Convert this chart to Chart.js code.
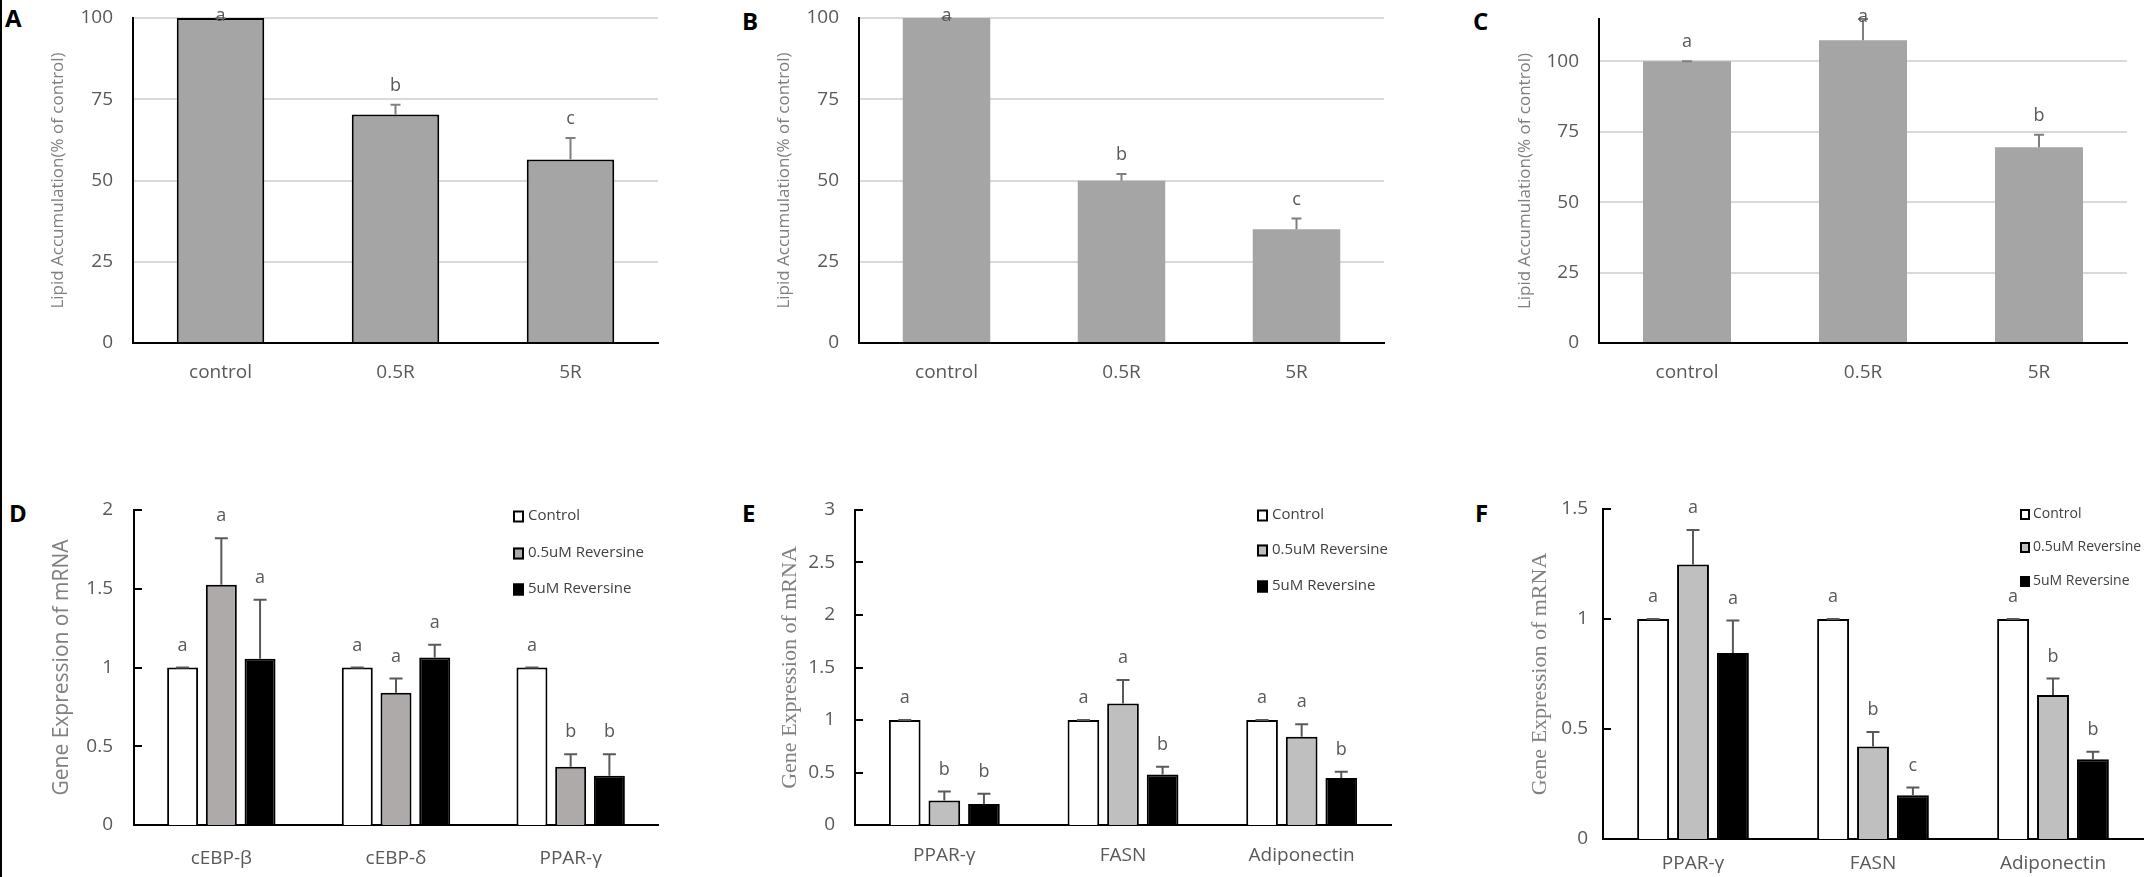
<!DOCTYPE html>
<html>
<head>
<meta charset="utf-8">
<script src="https://cdn.jsdelivr.net/npm/chart.js@4.4.1/dist/chart.umd.min.js"></script>
<style>
    html, body { margin: 0; padding: 0; background: #fff; width: 2144px; height: 877px; overflow: hidden; position: relative; }
    canvas.panel { position: absolute; }
    .tag { position: absolute; font-family: 'Open Sans', sans-serif; font-weight: 700; font-size: 24px; line-height: 24px; color: #000; }
    #edge { position: absolute; left: 0; top: 0; width: 2px; height: 877px; background: #000; }
</style>
</head>
<body>
<div id="edge"></div>
<div class="tag" style="left:5px;top:6px;">A</div>
<div class="tag" style="left:742px;top:9px;">B</div>
<div class="tag" style="left:1473px;top:9px;">C</div>
<div class="tag" style="left:9px;top:501px;">D</div>
<div class="tag" style="left:742px;top:501px;">E</div>
<div class="tag" style="left:1475px;top:501px;">F</div>
<script>
// top row: lipid accumulation
const topCats = ['control', '0.5R', '5R'];
const lipidA = [100, 70.3, 56.5];
const lipidAErr = [0, 3.0, 6.6];
const lipidALetters = ['a', 'b', 'c'];
const lipidB = [100, 49.9, 35.0];
const lipidBErr = [0, 2.1, 3.3];
const lipidBLetters = ['a', 'b', 'c'];
const lipidC = [100, 107.5, 69.5];
const lipidCErr = [0, 7.5, 4.4];
const lipidCLetters = ['a', 'a', 'b'];

// bottom row: gene expression
const groups = ['Control', '0.5uM Reversine', '5uM Reversine'];
const genesD = ['cEBP-β', 'cEBP-δ', 'PPAR-γ'];
const ctrlD = [1, 1, 1];
const lowD = [1.525, 0.84, 0.37];
const highD = [1.055, 1.064, 0.313];
const ctrlDErr = [0, 0, 0];
const lowDErr = [0.295, 0.09, 0.08];
const highDErr = [0.375, 0.08, 0.137];
const ctrlDLetters = ['a', 'a', 'a'];
const lowDLetters = ['a', 'a', 'b'];
const highDLetters = ['a', 'a', 'b'];

const genesEF = ['PPAR-γ', 'FASN', 'Adiponectin'];
const ctrlE = [1, 1, 1];
const lowE = [0.233, 1.158, 0.841];
const highE = [0.201, 0.48, 0.448];
const ctrlEErr = [0, 0, 0];
const lowEErr = [0.087, 0.224, 0.118];
const highEErr = [0.096, 0.074, 0.058];
const ctrlELetters = ['a', 'a', 'a'];
const lowELetters = ['b', 'a', 'a'];
const highELetters = ['b', 'b', 'b'];

const ctrlF = [1, 1, 1];
const lowF = [1.248, 0.42, 0.655];
const highF = [0.845, 0.199, 0.362];
const ctrlFErr = [0, 0, 0];
const lowFErr = [0.156, 0.066, 0.075];
const highFErr = [0.148, 0.035, 0.035];
const ctrlFLetters = ['a', 'a', 'a'];
const lowFLetters = ['a', 'b', 'b'];
const highFLetters = ['a', 'c', 'b'];

const SANS = "'Open Sans', sans-serif";
const SERIF = "'Liberation Serif', 'DejaVu Serif', serif";

// error bars, significance letters, inner ticks and legend
const extras = {
    id: 'extras',
    afterDatasetsDraw(chart, args, opts) {
        const ctx = chart.ctx;
        const y = chart.scales.y;
        const area = chart.chartArea;
        ctx.save();
        if (opts.innerTicks) {
            ctx.strokeStyle = '#000';
            ctx.lineWidth = 2;
            y.ticks.forEach(t => {
                const py = Math.round(y.getPixelForValue(t.value));
                ctx.beginPath();
                ctx.moveTo(area.left, py);
                ctx.lineTo(area.left + 8, py);
                ctx.stroke();
            });
        }
        chart.data.datasets.forEach((ds, di) => {
            const meta = chart.getDatasetMeta(di);
            meta.data.forEach((bar, i) => {
                const py0 = y.getPixelForValue(ds.data[i]);
                const py = y.getPixelForValue(ds.data[i] + ds.errors[i]);
                ctx.strokeStyle = opts.errColor;
                ctx.lineWidth = opts.errWidth;
                ctx.beginPath();
                ctx.moveTo(bar.x, py0);
                ctx.lineTo(bar.x, py);
                ctx.moveTo(bar.x - opts.cap / 2, py);
                ctx.lineTo(bar.x + opts.cap / 2, py);
                ctx.stroke();
                ctx.fillStyle = '#595959';
                ctx.font = '18px ' + SANS;
                ctx.textAlign = 'center';
                ctx.textBaseline = 'middle';
                ctx.fillText(ds.letters[i], bar.x, Math.max(py - opts.letterGap, area.top - 2));
            });
        });
        if (opts.legend) {
            const lg = opts.legend;
            ctx.font = lg.size + 'px ' + SANS;
            ctx.textAlign = 'left';
            ctx.textBaseline = 'middle';
            chart.data.datasets.forEach((ds, di) => {
                const cy = lg.rows[di];
                ctx.fillStyle = ds.backgroundColor;
                ctx.fillRect(lg.x, cy - lg.box / 2, lg.box, lg.box + 1);
                ctx.strokeStyle = '#000';
                ctx.lineWidth = 2;
                ctx.strokeRect(lg.x + 1, cy - lg.box / 2 + 1, lg.box - 2, lg.box - 1);
                ctx.fillStyle = '#404040';
                ctx.fillText(ds.label, lg.textX, cy);
            });
        }
        ctx.restore();
    }
};

function addCanvas(left, top, width, height) {
    const c = document.createElement('canvas');
    c.className = 'panel';
    c.width = width;
    c.height = height;
    c.style.left = left + 'px';
    c.style.top = top + 'px';
    document.body.appendChild(c);
    return c;
}

// keep the chart area where the layout padding puts it
function fixY(width) {
    return s => { s.width = width; s.paddingTop = 0; s.paddingBottom = 0; };
}

function lipidChart(p, values, errs, letters) {
    const canvas = addCanvas(p.left, 0, p.width, 400);
    new Chart(canvas, {
        type: 'bar',
        data: {
            labels: topCats,
            datasets: [{
                data: values, errors: errs, letters: letters,
                backgroundColor: '#a5a5a5', borderColor: '#000', borderWidth: p.border,
                barPercentage: 1, categoryPercentage: 0.5
            }]
        },
        options: {
            responsive: false, animation: false,
            layout: { padding: { top: p.top, right: 12, left: 0, bottom: 0 } },
            plugins: {
                legend: { display: false }, tooltip: { enabled: false },
                extras: { errColor: '#7f7f7f', errWidth: 2, cap: 10, letterGap: 19 }
            },
            scales: {
                x: {
                    grid: { display: false, drawTicks: false },
                    border: { color: '#000', width: 2 },
                    ticks: { color: '#595959', font: { family: SANS, size: 19 }, padding: 18 },
                    afterFit: s => { s.height = 57; }
                },
                y: {
                    min: 0, max: p.max,
                    grid: { color: c => c.tick.value === 0 ? 'rgba(0,0,0,0)' : '#d9d9d9', lineWidth: 2, drawTicks: false },
                    border: { color: '#000', width: 2 },
                    ticks: { stepSize: 25, color: '#595959', font: { family: SANS, size: 19 }, padding: 20 },
                    afterBuildTicks: s => { s.ticks = s.ticks.filter(t => t.value % 25 === 0); },
                    afterFit: fixY(p.yw),
                    title: { display: true, text: 'Lipid Accumulation(% of control)', color: '#7f7f7f', font: { family: SANS, size: 17 }, padding: 0 }
                }
            }
        },
        plugins: [extras]
    });
}

function geneChart(p, cats, series, midColor) {
    const canvas = addCanvas(p.left, 480, p.width, 397);
    const fills = ['#ffffff', midColor, '#000000'];
    new Chart(canvas, {
        type: 'bar',
        data: {
            labels: cats,
            datasets: series.map((s, i) => ({
                label: groups[i], data: s.values, errors: s.errs, letters: s.letters,
                backgroundColor: fills[i], borderColor: '#000', borderWidth: 2,
                barPercentage: 0.8, categoryPercentage: 0.665
            }))
        },
        options: {
            responsive: false, animation: false,
            layout: { padding: { top: p.top, right: 12, left: 0, bottom: 0 } },
            plugins: {
                legend: { display: false }, tooltip: { enabled: false },
                extras: {
                    errColor: '#595959', errWidth: 2, cap: 13, letterGap: 22, innerTicks: true,
                    legend: { x: p.legendX - p.left, textX: p.legendTextX - p.left, rows: p.legendRows.map(r => r - 480), size: p.legendSize, box: p.legendBox }
                }
            },
            scales: {
                x: {
                    grid: { display: false, drawTicks: false },
                    border: { color: '#000', width: 2 },
                    ticks: { color: '#595959', font: { family: SANS, size: 19 }, padding: p.xpad },
                    afterFit: s => { s.height = p.xh; }
                },
                y: {
                    min: 0, max: p.max,
                    grid: { display: false, drawTicks: false },
                    border: { color: '#000', width: 2 },
                    ticks: { stepSize: 0.5, color: '#595959', font: { family: SANS, size: 19 }, padding: p.ypad, callback: v => String(v) },
                    afterFit: fixY(p.yw),
                    title: { display: true, text: 'Gene Expression of mRNA', color: '#808080', font: { family: p.titleFont, size: p.titleSize }, padding: 0 }
                }
            }
        },
        plugins: [extras]
    });
}

lipidChart({ left: 48, width: 622, yw: 85, top: 18, max: 100, border: 2 }, lipidA, lipidAErr, lipidALetters);
lipidChart({ left: 774, width: 622, yw: 85, top: 18, max: 100, border: 0 }, lipidB, lipidBErr, lipidBLetters);
lipidChart({ left: 1515, width: 624, yw: 84, top: 19, max: 115, border: 0 }, lipidC, lipidCErr, lipidCLetters);

geneChart({ left: 49, width: 621, yw: 85, top: 30, max: 2, xh: 52, xpad: 22, ypad: 21,
            titleFont: SANS, titleSize: 21, legendX: 513, legendTextX: 528, legendRows: [516, 553, 589], legendSize: 15, legendBox: 11 },
    genesD, [
        { values: ctrlD, errs: ctrlDErr, letters: ctrlDLetters },
        { values: lowD, errs: lowDErr, letters: lowDLetters },
        { values: highD, errs: highDErr, letters: highDLetters }
    ], '#aeaaaa');

geneChart({ left: 777, width: 626, yw: 78, top: 30, max: 3, xh: 52, xpad: 19, ypad: 20,
            titleFont: SERIF, titleSize: 22, legendX: 1257, legendTextX: 1272, legendRows: [515, 550, 586], legendSize: 15, legendBox: 11 },
    genesEF, [
        { values: ctrlE, errs: ctrlEErr, letters: ctrlELetters },
        { values: lowE, errs: lowEErr, letters: lowELetters },
        { values: highE, errs: highEErr, letters: highELetters }
    ], '#bfbfbf');

geneChart({ left: 1527, width: 628, yw: 76, top: 29, max: 1.5, xh: 38, xpad: 13, ypad: 15,
            titleFont: SERIF, titleSize: 22, legendX: 2020, legendTextX: 2033, legendRows: [514, 547, 581], legendSize: 14, legendBox: 10 },
    genesEF, [
        { values: ctrlF, errs: ctrlFErr, letters: ctrlFLetters },
        { values: lowF, errs: lowFErr, letters: lowFLetters },
        { values: highF, errs: highFErr, letters: highFLetters }
    ], '#bfbfbf');
</script>
</body>
</html>
